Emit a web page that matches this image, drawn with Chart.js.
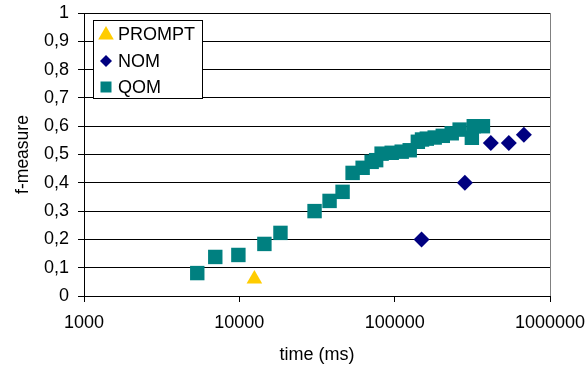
<!DOCTYPE html>
<html>
<head>
<meta charset="utf-8">
<script src="https://cdn.jsdelivr.net/npm/chart.js@4/dist/chart.umd.min.js"></script>
<style>
  html, body { margin: 0; padding: 0; background: #fff; }
  #wrap { width: 586px; height: 369px; }
</style>
</head>
<body>
<div id="wrap"><canvas id="chart" width="586" height="369"></canvas></div>
<script>
// values
const promptTime = [12500];
const promptF = [0.06];

const nomTime = [149000, 283000, 416000, 543000, 679000];
const nomF = [0.2, 0.4, 0.541, 0.541, 0.57];

const qomTime = [5360, 7000, 9860, 14500, 18400, 30500, 38100, 46200, 53600, 62200,
  71100, 76000, 82400, 95700, 111000, 125000, 141000, 150000, 161000, 181000,
  204000, 233000, 262000, 314000, 323000, 370000];
const qomF = [0.081, 0.138, 0.145, 0.184, 0.223, 0.30, 0.336, 0.368, 0.435, 0.453,
  0.474, 0.48, 0.503, 0.506, 0.51, 0.515, 0.545, 0.553, 0.556, 0.56,
  0.566, 0.575, 0.588, 0.559, 0.6, 0.6];

const xTicks = [1000, 10000, 100000, 1000000];
const seriesNames = ['PROMPT', 'NOM', 'QOM'];
const seriesColors = ['#FFCC00', '#000080', '#008080'];

const font = 'Liberation Sans, Arial, sans-serif';

function toPoints(xs, ys) {
  return xs.map((x, i) => ({ x: x, y: ys[i] }));
}

function drawSymbol(ctx, style, x, y, r) {
  ctx.beginPath();
  if (style === 'triangle') {
    ctx.moveTo(x, y - r);
    ctx.lineTo(x + r * 0.866, y + r * 0.5);
    ctx.lineTo(x - r * 0.866, y + r * 0.5);
  } else if (style === 'rectRot') {
    ctx.moveTo(x - r, y);
    ctx.lineTo(x, y - r);
    ctx.lineTo(x + r, y);
    ctx.lineTo(x, y + r);
  } else {
    ctx.rect(x - r, y - r, 2 * r, 2 * r);
  }
  ctx.closePath();
  ctx.fill();
}

// legend box in the top-left of the plot, plus the grey right border
const extras = {
  id: 'extras',
  beforeDatasetsDraw(chart) {
    const { ctx, chartArea } = chart;
    ctx.save();
    ctx.strokeStyle = '#808080';
    ctx.lineWidth = 1;
    ctx.beginPath();
    ctx.moveTo(Math.round(chartArea.right) + 0.5, chartArea.top);
    ctx.lineTo(Math.round(chartArea.right) + 0.5, chartArea.bottom);
    ctx.stroke();
    ctx.restore();
  },
  afterDraw(chart) {
    const ctx = chart.ctx;
    ctx.save();
    ctx.fillStyle = '#fff';
    ctx.fillRect(93, 20, 109, 78);
    ctx.strokeStyle = '#000';
    ctx.lineWidth = 1;
    ctx.strokeRect(93.5, 20.5, 109, 78);
    const rows = [34, 61, 87];
    const styles = ['triangle', 'rectRot', 'rect'];
    const sizes = [9, 6, 5.5];
    ctx.font = '18px ' + font;
    ctx.textBaseline = 'middle';
    rows.forEach((y, i) => {
      ctx.fillStyle = seriesColors[i];
      drawSymbol(ctx, styles[i], 106, i === 0 ? y + 1 : y, sizes[i]);
      ctx.fillStyle = '#000';
      ctx.fillText(seriesNames[i], 118, y + 1);
    });
    ctx.restore();
  }
};

new Chart(document.getElementById('chart'), {
  type: 'scatter',
  data: {
    datasets: [{
      label: seriesNames[0],
      data: toPoints(promptTime, promptF),
      pointStyle: 'triangle',
      pointRadius: 9,
      backgroundColor: seriesColors[0],
      borderColor: seriesColors[0],
      pointBorderWidth: 0
    }, {
      label: seriesNames[1],
      data: toPoints(nomTime, nomF),
      pointStyle: 'rectRot',
      pointRadius: 8,
      backgroundColor: seriesColors[1],
      borderColor: seriesColors[1],
      pointBorderWidth: 0
    }, {
      label: seriesNames[2],
      data: toPoints(qomTime, qomF),
      pointStyle: 'rect',
      pointRadius: 10.2,
      backgroundColor: seriesColors[2],
      borderColor: seriesColors[2],
      pointBorderWidth: 0
    }]
  },
  options: {
    responsive: false,
    animation: false,
    devicePixelRatio: 1,
    layout: { padding: { top: 13, right: 36, left: 0, bottom: 0 } },
    plugins: {
      legend: { display: false },
      tooltip: { enabled: false }
    },
    scales: {
      x: {
        type: 'logarithmic',
        min: 1000,
        max: 1000000,
        afterBuildTicks: scale => { scale.ticks = xTicks.map(v => ({ value: v })); },
        afterFit: scale => {
          scale.height = 73;
          scale.paddingLeft = 0;
          scale.paddingRight = 0;
        },
        ticks: {
          color: '#000',
          font: { family: font, size: 18 },
          padding: 10,
          maxRotation: 0,
          autoSkip: false,
          callback: v => String(v)
        },
        grid: { drawOnChartArea: false, drawTicks: true, tickLength: 6, color: '#000' },
        border: { color: '#000' },
        title: {
          display: true,
          text: 'time (ms)',
          color: '#000',
          font: { family: font, size: 18 },
          padding: { top: 0, bottom: 3 }
        }
      },
      y: {
        min: 0,
        max: 1,
        afterFit: scale => {
          scale.width = 84;
          scale.paddingTop = 0;
          scale.paddingBottom = 0;
        },
        ticks: {
          stepSize: 0.1,
          color: '#000',
          font: { family: font, size: 18 },
          padding: 9,
          callback: v => String(Math.round(v * 10) / 10).replace('.', ',')
        },
        grid: { color: '#000', tickLength: 6, tickColor: '#000' },
        border: { color: '#000' },
        title: {
          display: true,
          text: 'f-measure',
          color: '#000',
          font: { family: font, size: 17.5 },
          padding: { top: 13, bottom: 0 }
        }
      }
    }
  },
  plugins: [extras]
});
</script>
</body>
</html>
